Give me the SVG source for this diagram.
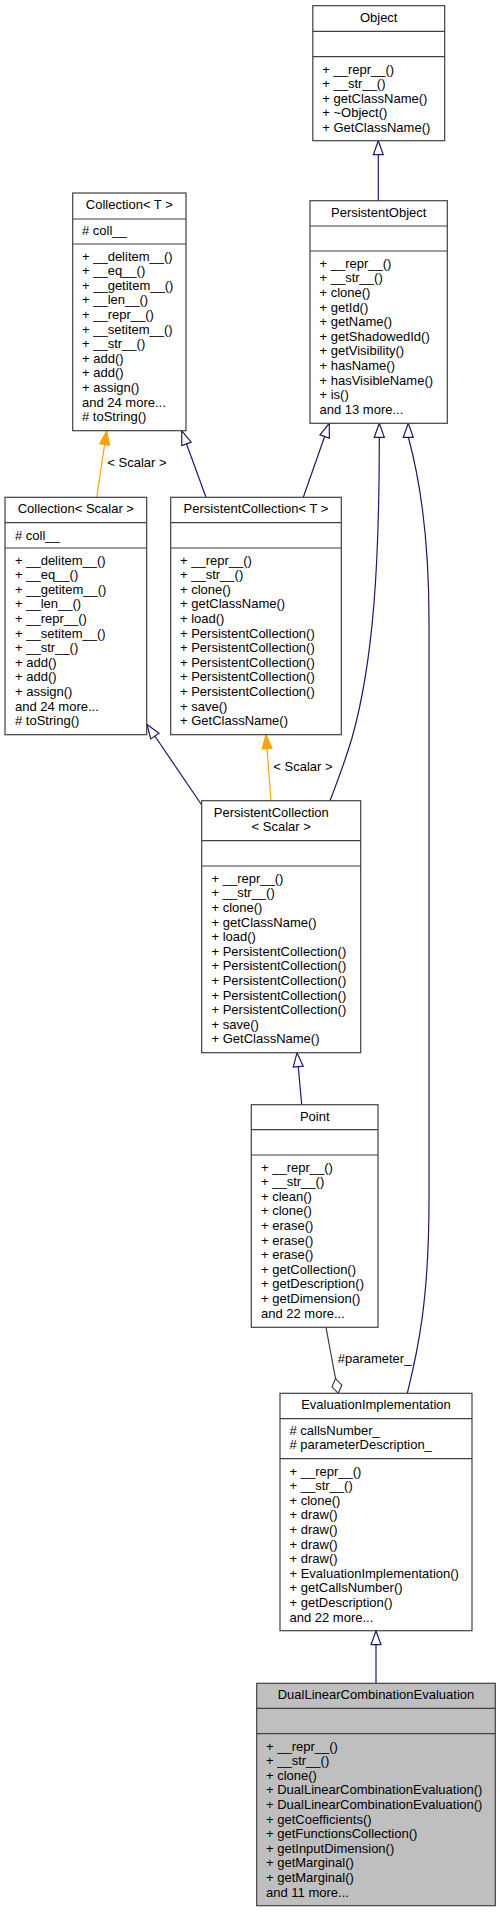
<svg xmlns="http://www.w3.org/2000/svg" width="500" height="1912" viewBox="0 0 500 1912">
<style>
.box{fill:#fff;stroke:#404040;stroke-width:1.2}
.hl{fill:#bfbfbf}
.div{stroke:#404040;stroke-width:1.2}
text{font-family:"Liberation Sans",Arial,sans-serif;font-size:13px;fill:#000}
.t{text-anchor:middle}
.inh{fill:none;stroke:#191970;stroke-width:1.2}
.tpl{fill:none;stroke:#ffa500;stroke-width:1.2}
.use{fill:none;stroke:#404040;stroke-width:1.2}
</style>
<defs>
<marker id="hollow" markerUnits="userSpaceOnUse" markerWidth="16" markerHeight="12" viewBox="-1 -1 16 12" refX="14" refY="5" orient="auto">
<path d="M0,0 L14,5 L0,10 Z" fill="#fff" stroke="#191970" stroke-width="1.2"/>
</marker>
<marker id="filled" markerUnits="userSpaceOnUse" markerWidth="16" markerHeight="12" viewBox="-1 -1 16 12" refX="14" refY="5" orient="auto">
<path d="M0,0 L14,5 L0,10 Z" fill="#ffa500" stroke="#ffa500" stroke-width="1.2"/>
</marker>
<marker id="diamond" markerUnits="userSpaceOnUse" markerWidth="18" markerHeight="12" viewBox="-1 -1 18 12" refX="15" refY="5" orient="auto">
<path d="M0,5 L7.5,0 L15,5 L7.5,10 Z" fill="#fff" stroke="#404040" stroke-width="1.2"/>
</marker>
</defs>

<g id="connectors">
<path class="inh" d="M378.3,200.7 L378.3,140.7" marker-end="url(#hollow)"/>
<path class="inh" d="M303.3,497.3 L329.3,423.3" marker-end="url(#hollow)"/>
<path class="inh" d="M330,800.7 C338,780 346,758 352,738 C374,660 379.3,560 379.3,437 L379.3,423.3" marker-end="url(#hollow)"/>
<path class="inh" d="M407.3,1393.3 C418,1350 429,1300 429,1200 L429,620 C429,540 420,480 408.3,437 L408.3,423.3" marker-end="url(#hollow)"/>
<path class="tpl" d="M96.7,497.3 L106.7,430.7" marker-end="url(#filled)"/>
<text x="107.3" y="467.2">&lt; Scalar &gt;</text>
<path class="inh" d="M206,497.3 L181.7,430.7" marker-end="url(#hollow)"/>
<path class="inh" d="M201.7,805 L147,724.5" marker-end="url(#hollow)"/>
<path class="tpl" d="M271,800.7 L266,734.7" marker-end="url(#filled)"/>
<text x="273.3" y="771.2">&lt; Scalar &gt;</text>
<path class="inh" d="M301.7,1104.7 L297,1052.7" marker-end="url(#hollow)"/>
<path class="use" d="M326,1327.3 L338.3,1393.3" marker-end="url(#diamond)"/>
<text x="337.7" y="1363.2">#parameter_</text>
<path class="inh" d="M376,1683.3 L376,1630.7" marker-end="url(#hollow)"/>
</g>

<g id="Object">
<rect class="box" x="312.8" y="5.7" width="131.9" height="135"/>
<line class="div" x1="312.8" y1="31.3" x2="444.7" y2="31.3"/>
<line class="div" x1="312.8" y1="56.7" x2="444.7" y2="56.7"/>
<text class="t" x="378.7" y="22">Object</text>
<text x="322.3" y="73.5">+ __repr__()</text>
<text x="322.3" y="88">+ __str__()</text>
<text x="322.3" y="102.5">+ getClassName()</text>
<text x="322.3" y="117">+ ~Object()</text>
<text x="322.3" y="131.5">+ GetClassName()</text>
</g>

<g id="PersistentObject">
<rect class="box" x="310" y="200.7" width="137.3" height="222.6"/>
<line class="div" x1="310" y1="226" x2="447.3" y2="226"/>
<line class="div" x1="310" y1="251" x2="447.3" y2="251"/>
<text class="t" x="378.7" y="216.8">PersistentObject</text>
<text x="319.5" y="267.8">+ __repr__()</text>
<text x="319.5" y="282.4">+ __str__()</text>
<text x="319.5" y="297">+ clone()</text>
<text x="319.5" y="311.6">+ getId()</text>
<text x="319.5" y="326.2">+ getName()</text>
<text x="319.5" y="340.8">+ getShadowedId()</text>
<text x="319.5" y="355.4">+ getVisibility()</text>
<text x="319.5" y="370">+ hasName()</text>
<text x="319.5" y="384.6">+ hasVisibleName()</text>
<text x="319.5" y="399.2">+ is()</text>
<text x="319.5" y="413.8">and 13 more...</text>
</g>

<g id="CollectionT">
<rect class="box" x="72.7" y="193" width="113.3" height="237.7"/>
<line class="div" x1="72.7" y1="219" x2="186" y2="219"/>
<line class="div" x1="72.7" y1="244" x2="186" y2="244"/>
<text class="t" x="129.3" y="208.5">Collection&lt; T &gt;</text>
<text x="82" y="235.2"># coll__</text>
<text x="82" y="260.5">+ __delitem__()</text>
<text x="82" y="275.1">+ __eq__()</text>
<text x="82" y="289.7">+ __getitem__()</text>
<text x="82" y="304.3">+ __len__()</text>
<text x="82" y="318.9">+ __repr__()</text>
<text x="82" y="333.5">+ __setitem__()</text>
<text x="82" y="348.1">+ __str__()</text>
<text x="82" y="362.7">+ add()</text>
<text x="82" y="377.3">+ add()</text>
<text x="82" y="391.9">+ assign()</text>
<text x="82" y="406.5">and 24 more...</text>
<text x="82" y="421.1"># toString()</text>
</g>

<g id="CollectionScalar">
<rect class="box" x="5" y="497.3" width="141.7" height="237.4"/>
<line class="div" x1="5" y1="522.7" x2="146.7" y2="522.7"/>
<line class="div" x1="5" y1="548" x2="146.7" y2="548"/>
<text class="t" x="75.8" y="512.8">Collection&lt; Scalar &gt;</text>
<text x="15" y="539.5"># coll__</text>
<text x="15" y="564.5">+ __delitem__()</text>
<text x="15" y="579.1">+ __eq__()</text>
<text x="15" y="593.7">+ __getitem__()</text>
<text x="15" y="608.3">+ __len__()</text>
<text x="15" y="622.9">+ __repr__()</text>
<text x="15" y="637.5">+ __setitem__()</text>
<text x="15" y="652.1">+ __str__()</text>
<text x="15" y="666.7">+ add()</text>
<text x="15" y="681.3">+ add()</text>
<text x="15" y="695.9">+ assign()</text>
<text x="15" y="710.5">and 24 more...</text>
<text x="15" y="725.1"># toString()</text>
</g>

<g id="PersistentCollectionT">
<rect class="box" x="170.7" y="497.3" width="170.6" height="237.4"/>
<line class="div" x1="170.7" y1="522.7" x2="341.3" y2="522.7"/>
<line class="div" x1="170.7" y1="548" x2="341.3" y2="548"/>
<text class="t" x="256" y="512.8">PersistentCollection&lt; T &gt;</text>
<text x="180" y="564.5">+ __repr__()</text>
<text x="180" y="579.1">+ __str__()</text>
<text x="180" y="593.7">+ clone()</text>
<text x="180" y="608.3">+ getClassName()</text>
<text x="180" y="622.9">+ load()</text>
<text x="180" y="637.5">+ PersistentCollection()</text>
<text x="180" y="652.1">+ PersistentCollection()</text>
<text x="180" y="666.7">+ PersistentCollection()</text>
<text x="180" y="681.3">+ PersistentCollection()</text>
<text x="180" y="695.9">+ PersistentCollection()</text>
<text x="180" y="710.5">+ save()</text>
<text x="180" y="725.1">+ GetClassName()</text>
</g>

<g id="PersistentCollectionScalar">
<rect class="box" x="201.7" y="800.7" width="159" height="252"/>
<line class="div" x1="201.7" y1="840.7" x2="360.7" y2="840.7"/>
<line class="div" x1="201.7" y1="866" x2="360.7" y2="866"/>
<text class="t" x="271.3" y="816.8">PersistentCollection</text>
<text class="t" x="281.2" y="831.2">&lt; Scalar &gt;</text>
<text x="211.5" y="882.8">+ __repr__()</text>
<text x="211.5" y="897.4">+ __str__()</text>
<text x="211.5" y="912">+ clone()</text>
<text x="211.5" y="926.6">+ getClassName()</text>
<text x="211.5" y="941.2">+ load()</text>
<text x="211.5" y="955.8">+ PersistentCollection()</text>
<text x="211.5" y="970.4">+ PersistentCollection()</text>
<text x="211.5" y="985">+ PersistentCollection()</text>
<text x="211.5" y="999.6">+ PersistentCollection()</text>
<text x="211.5" y="1014.2">+ PersistentCollection()</text>
<text x="211.5" y="1028.8">+ save()</text>
<text x="211.5" y="1043.4">+ GetClassName()</text>
</g>

<g id="Point">
<rect class="box" x="251.3" y="1104.7" width="126.7" height="222.6"/>
<line class="div" x1="251.3" y1="1129.7" x2="378" y2="1129.7"/>
<line class="div" x1="251.3" y1="1155" x2="378" y2="1155"/>
<text class="t" x="314.7" y="1120.8">Point</text>
<text x="261" y="1171.5">+ __repr__()</text>
<text x="261" y="1186.1">+ __str__()</text>
<text x="261" y="1200.7">+ clean()</text>
<text x="261" y="1215.3">+ clone()</text>
<text x="261" y="1229.9">+ erase()</text>
<text x="261" y="1244.5">+ erase()</text>
<text x="261" y="1259.1">+ erase()</text>
<text x="261" y="1273.7">+ getCollection()</text>
<text x="261" y="1288.3">+ getDescription()</text>
<text x="261" y="1302.9">+ getDimension()</text>
<text x="261" y="1317.5">and 22 more...</text>
</g>

<g id="EvaluationImplementation">
<rect class="box" x="280" y="1393.3" width="192" height="237.4"/>
<line class="div" x1="280" y1="1418.7" x2="472" y2="1418.7"/>
<line class="div" x1="280" y1="1458.7" x2="472" y2="1458.7"/>
<text class="t" x="376" y="1409.2">EvaluationImplementation</text>
<text x="289.5" y="1435.2"># callsNumber_</text>
<text x="289.5" y="1449.2"># parameterDescription_</text>
<text x="289.5" y="1475.5">+ __repr__()</text>
<text x="289.5" y="1490.1">+ __str__()</text>
<text x="289.5" y="1504.7">+ clone()</text>
<text x="289.5" y="1519.3">+ draw()</text>
<text x="289.5" y="1533.9">+ draw()</text>
<text x="289.5" y="1548.5">+ draw()</text>
<text x="289.5" y="1563.1">+ draw()</text>
<text x="289.5" y="1577.7">+ EvaluationImplementation()</text>
<text x="289.5" y="1592.3">+ getCallsNumber()</text>
<text x="289.5" y="1606.9">+ getDescription()</text>
<text x="289.5" y="1621.5">and 22 more...</text>
</g>

<g id="DualLinearCombinationEvaluation">
<rect class="box hl" x="256.7" y="1683.3" width="238.6" height="222.4"/>
<line class="div" x1="256.7" y1="1708.3" x2="495.3" y2="1708.3"/>
<line class="div" x1="256.7" y1="1733.7" x2="495.3" y2="1733.7"/>
<text class="t" x="376" y="1699.2">DualLinearCombinationEvaluation</text>
<text x="266" y="1750.5">+ __repr__()</text>
<text x="266" y="1765.1">+ __str__()</text>
<text x="266" y="1779.7">+ clone()</text>
<text x="266" y="1794.3">+ DualLinearCombinationEvaluation()</text>
<text x="266" y="1808.9">+ DualLinearCombinationEvaluation()</text>
<text x="266" y="1823.5">+ getCoefficients()</text>
<text x="266" y="1838.1">+ getFunctionsCollection()</text>
<text x="266" y="1852.7">+ getInputDimension()</text>
<text x="266" y="1867.3">+ getMarginal()</text>
<text x="266" y="1881.9">+ getMarginal()</text>
<text x="266" y="1896.5">and 11 more...</text>
</g>
</svg>
